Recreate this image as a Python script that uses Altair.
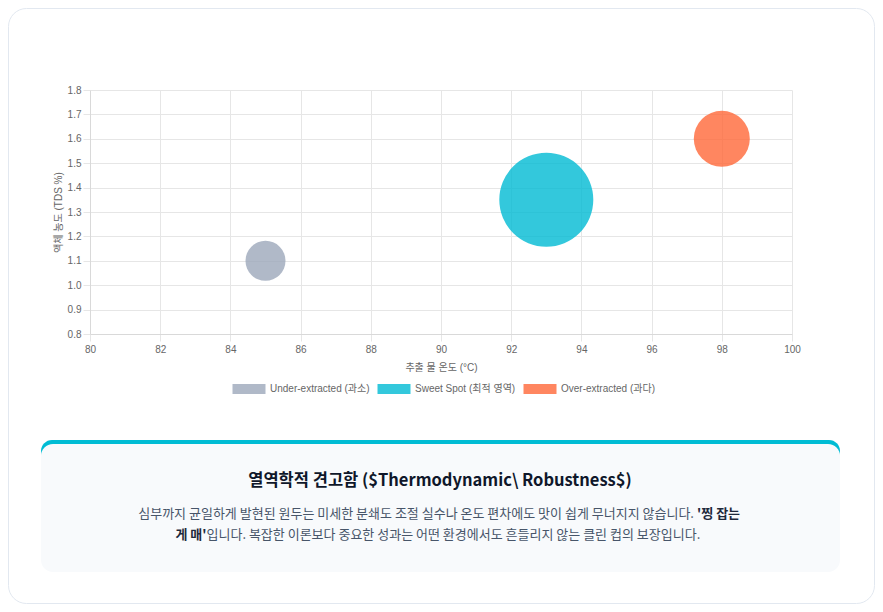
import altair as alt
import pandas as pd

# ---- data ----
categories = ["Under-extracted (과소)", "Sweet Spot (최적 영역)", "Over-extracted (과다)"]
temperature = [85, 93, 98]
tds = [1.1, 1.35, 1.6]
bubble_r = [20, 47, 28]
colors = ["#9ca7ba", "#00bad3", "#ff6838"]

x_title = "추출 물 온도 (°C)"
y_title = "액체 농도 (TDS %)"
x_ticks = [80, 82, 84, 86, 88, 90, 92, 94, 96, 98, 100]
y_ticks = [0.8, 0.9, 1.0, 1.1, 1.2, 1.3, 1.4, 1.5, 1.6, 1.7, 1.8]

box_title = ["열역학적 견고함 ($Thermodynamic\\ Robustness$)"]
line1_normal = ["심부까지 균일하게 발현된 원두는 미세한 분쇄도 조절 실수나 온도 편차에도 맛이 쉽게 무너지지 않습니다."]
line1_bold = ["'찡 잡는"]
line2_bold = ["게 매'"]
line2_normal = ["입니다. 복잡한 이론보다 중요한 성과는 어떤 환경에서도 흔들리지 않는 클린 컵의 보장입니다."]

df = pd.DataFrame({"category": categories, "temp": temperature, "tds": tds, "r": bubble_r})

AX_FONT = "Liberation Sans, Noto Sans CJK KR"
KR_FONT = "Noto Sans CJK KR"
W, H = 702, 244

one = alt.Data(values=[{"a": 1}])

card = alt.Chart(one).mark_rect(
    filled=False, stroke="#e2e8f0", strokeWidth=1, cornerRadius=18
).encode(x=alt.value(-81.5), x2=alt.value(784.5), y=alt.value(-81.5), y2=alt.value(513.5))

points = alt.Chart(df).mark_circle(opacity=0.8, strokeWidth=0).encode(
    x=alt.X("temp:Q", title=x_title,
            scale=alt.Scale(domain=[80, 100], nice=False, zero=False),
            axis=alt.Axis(values=x_ticks, format="d", labelFlush=False)),
    y=alt.Y("tds:Q", title=y_title,
            scale=alt.Scale(domain=[0.8, 1.8], nice=False, zero=False),
            axis=alt.Axis(values=y_ticks, format=".1f", labelFlush=False)),
    size=alt.Size("r:Q", scale=alt.Scale(type="pow", exponent=2, domain=[0, 50], range=[0, 10000]), legend=None),
    color=alt.Color("category:N",
                    scale=alt.Scale(domain=categories, range=colors),
                    legend=alt.Legend(orient="none", legendX=154, legendY=294, direction="horizontal",
                                      title=None, symbolType="M-3.3,-1H3.3V1H-3.3Z", symbolSize=100,
                                      symbolOpacity=0.8, symbolStrokeWidth=0, labelOffset=16,
                                      columnPadding=7, labelFontSize=10, labelColor="#666666",
                                      labelFont=AX_FONT, padding=0)),
)

teal = alt.Chart(one).mark_rect(fill="#00bcd4", cornerRadius=12).encode(
    x=alt.value(-49), x2=alt.value(750), y=alt.value(350), y2=alt.value(372))
panel = alt.Chart(one).mark_rect(fill="#f8fafc", cornerRadius=12).encode(
    x=alt.value(-49), x2=alt.value(750), y=alt.value(354), y2=alt.value(482))

title_txt = alt.Chart(pd.DataFrame({"t": box_title})).mark_text(
    font=KR_FONT, fontSize=16.5, fontWeight="bold", color="#0f172a", align="center", baseline="middle"
).encode(x=alt.value(350), y=alt.value(391), text="t:N")

FS = 13
l1n = alt.Chart(pd.DataFrame({"t": line1_normal})).mark_text(
    font=KR_FONT, fontSize=FS, color="#475569", align="right", baseline="middle"
).encode(x=alt.value(604), y=alt.value(424), text="t:N")
l1b = alt.Chart(pd.DataFrame({"t": line1_bold})).mark_text(
    font=KR_FONT, fontSize=FS, fontWeight="bold", color="#1e293b", align="left", baseline="middle"
).encode(x=alt.value(607), y=alt.value(424), text="t:N")
l2b = alt.Chart(pd.DataFrame({"t": line2_bold})).mark_text(
    font=KR_FONT, fontSize=FS, fontWeight="bold", color="#1e293b", align="right", baseline="middle"
).encode(x=alt.value(116.5), y=alt.value(445), text="t:N")
l2n = alt.Chart(pd.DataFrame({"t": line2_normal})).mark_text(
    font=KR_FONT, fontSize=FS, color="#475569", align="left", baseline="middle"
).encode(x=alt.value(116.5), y=alt.value(445), text="t:N")

chart = alt.layer(card, points, teal, panel, title_txt, l1n, l1b, l2b, l2n).properties(
    width=W, height=H,
    autosize=alt.AutoSizeParams(type="none"),
    padding={"left": 82, "top": 82, "right": 83, "bottom": 270},
    background="#ffffff",
).configure_view(stroke=None).configure_axis(
    gridColor="#e6e6e6", domainColor="#d9d9d9", tickColor="#e6e6e6", tickSize=7,
    labelFont=AX_FONT, labelFontSize=10, labelColor="#666666", labelPadding=3,
    titleFont=AX_FONT, titleFontSize=10, titleColor="#666666", titleFontWeight="normal",
).configure_axisX(titlePadding=8).configure_axisY(labelPadding=2, titlePadding=4)

chart.save("out.html", embed_options={"renderer": "svg", "actions": False})
